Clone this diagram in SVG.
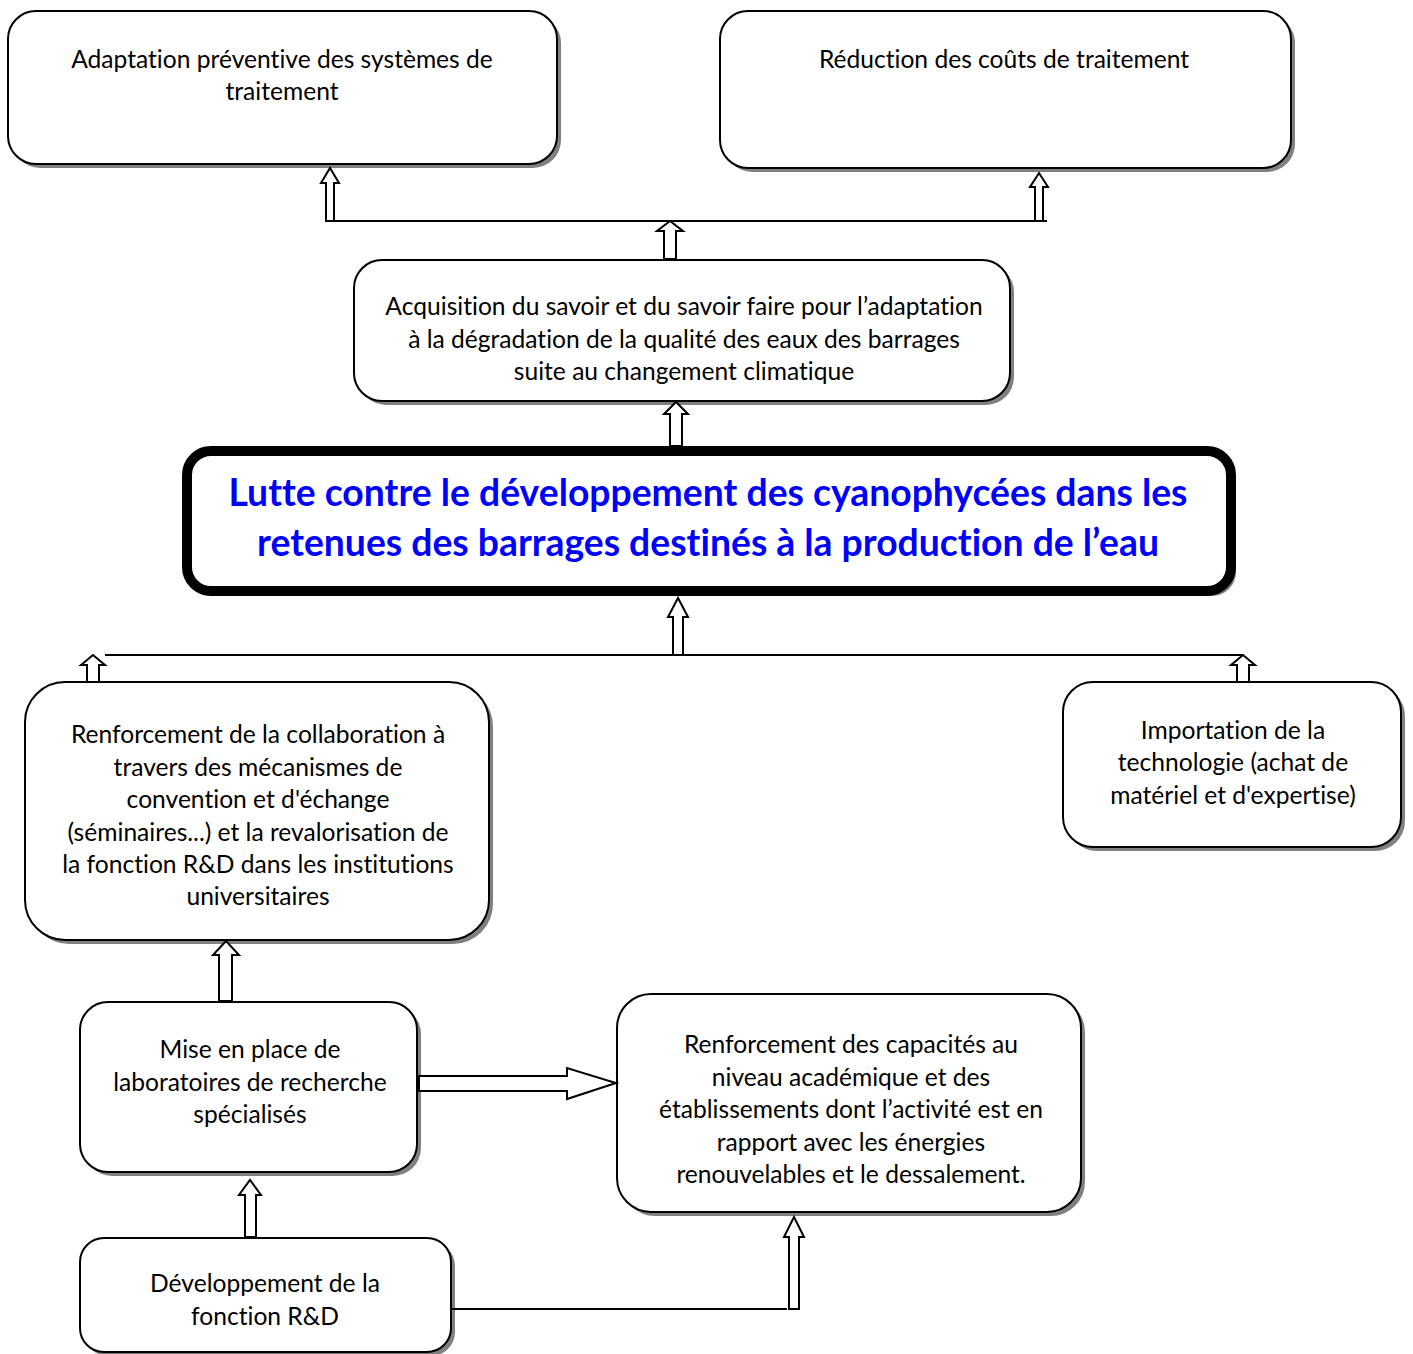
<svg xmlns="http://www.w3.org/2000/svg" width="1413" height="1354" viewBox="0 0 1413 1354">
<defs>
<style>
.box{fill:#fff;stroke:#000;stroke-width:2}
.sh{fill:#808080}
.t{font-family:Lato,"Open Sans","Liberation Sans",sans-serif;font-size:24.6px;fill:#000;text-anchor:middle;font-variant-ligatures:none;font-feature-settings:"liga" 0,"dlig" 0}
.title{font-family:Lato,"Open Sans","Liberation Sans",sans-serif;font-size:37.3px;font-weight:bold;fill:#0000ff;text-anchor:middle;font-variant-ligatures:none;font-feature-settings:"liga" 0,"dlig" 0}
.arr{fill:#fff;stroke:#000;stroke-width:2;stroke-linejoin:miter}
.ln{fill:none;stroke:#000;stroke-width:2}
</style>
</defs>
<rect width="1413" height="1354" fill="#fff"/>

<g id="n-adaptation">
<rect class="sh" x="12" y="15" width="549" height="153" rx="28"/>
<rect class="box" x="8" y="11" width="549" height="153" rx="28"/>
<text class="t" x="282" y="68">Adaptation préventive des systèmes de</text>
<text class="t" x="282" y="100">traitement</text>
</g>

<g id="n-reduction">
<rect class="sh" x="724" y="15" width="571" height="157" rx="28"/>
<rect class="box" x="720" y="11" width="571" height="157" rx="28"/>
<text class="t" x="1004" y="68">Réduction des coûts de traitement</text>
</g>

<g id="n-acquisition">
<rect class="sh" x="358" y="264" width="656" height="141" rx="28"/>
<rect class="box" x="354" y="260" width="656" height="141" rx="28"/>
<text class="t" x="684" y="315">Acquisition du savoir et du savoir faire pour l’adaptation</text>
<text class="t" x="684" y="348">à la dégradation de la qualité des eaux des barrages</text>
<text class="t" x="684" y="380">suite au changement climatique</text>
</g>

<g id="n-lutte">
<rect class="sh" x="192" y="456" width="1044" height="140" rx="24"/>
<rect x="187" y="451" width="1044" height="140" rx="24" fill="#fff" stroke="#000" stroke-width="10"/>
<text class="title" x="708" y="506">Lutte contre le développement des cyanophycées dans les</text>
<text class="title" x="708" y="556">retenues des barrages destinés à la production de l’eau</text>
</g>

<g id="n-collaboration">
<rect class="sh" x="29" y="686" width="464" height="258" rx="40"/>
<rect class="box" x="25" y="682" width="464" height="258" rx="40"/>
<text class="t" x="258" y="743">Renforcement de la collaboration à</text>
<text class="t" x="258" y="776">travers des mécanismes de</text>
<text class="t" x="258" y="808">convention et d'échange</text>
<text class="t" x="258" y="841">(séminaires...) et la revalorisation de</text>
<text class="t" x="258" y="873">la fonction R&amp;D dans les institutions</text>
<text class="t" x="258" y="905">universitaires</text>
</g>

<g id="n-importation">
<rect class="sh" x="1067" y="686" width="338" height="165" rx="30"/>
<rect class="box" x="1063" y="682" width="338" height="165" rx="30"/>
<text class="t" x="1233" y="739">Importation de la</text>
<text class="t" x="1233" y="771">technologie (achat de</text>
<text class="t" x="1233" y="804">matériel et d'expertise)</text>
</g>

<g id="n-laboratoires">
<rect class="sh" x="84" y="1006" width="337" height="170" rx="28"/>
<rect class="box" x="80" y="1002" width="337" height="170" rx="28"/>
<text class="t" x="250" y="1058">Mise en place de</text>
<text class="t" x="250" y="1091">laboratoires de recherche</text>
<text class="t" x="250" y="1123">spécialisés</text>
</g>

<g id="n-capacites">
<rect class="sh" x="621" y="998" width="464" height="218" rx="34"/>
<rect class="box" x="617" y="994" width="464" height="218" rx="34"/>
<text class="t" x="851" y="1053">Renforcement des capacités au</text>
<text class="t" x="851" y="1086">niveau académique et des</text>
<text class="t" x="851" y="1118">établissements dont l’activité est en</text>
<text class="t" x="851" y="1151">rapport avec les énergies</text>
<text class="t" x="851" y="1183">renouvelables et le dessalement.</text>
</g>

<g id="n-developpement">
<rect class="sh" x="84" y="1242" width="371" height="114" rx="24"/>
<rect class="box" x="80" y="1238" width="371" height="114" rx="24"/>
<text class="t" x="265" y="1292">Développement de la</text>
<text class="t" x="265" y="1325">fonction R&amp;D</text>
</g>

<g id="connectors">
<path class="ln" d="M330 221 H1047"/>
<path class="arr" d="M326 221 V183 H321 L330 168 L339 183 H334 V221 Z"/>
<path class="arr" d="M1035 221 V187 H1030 L1039 173 L1048 187 H1043 V221 Z"/>
<path class="arr" d="M664 259 V231 H657 L670 221 L683 231 H676 V259 Z"/>
<path class="arr" d="M670 446 V414 H664 L676 402 L688 414 H682 V446 Z"/>
<path class="ln" d="M105 655 H1243"/>
<path class="arr" d="M673 655 V617 H668 L678 598 L688 617 H683 V655 Z"/>
<path class="arr" d="M87 682 V665 H81 L93 655 L105 665 H99 V682 Z"/>
<path class="arr" d="M1237 682 V665 H1231 L1243 655 L1255 665 H1249 V682 Z"/>
<path class="arr" d="M219 1001 V955 H213 L226 941 L239 955 H232 V1001 Z"/>
<path class="arr" d="M245 1237 V1195 H239 L250 1180 L261 1195 H256 V1237 Z"/>
<path class="arr" d="M419 1076 H567 V1068 L616 1083 L567 1099 V1091 H419 Z"/>
<path class="ln" d="M452 1309 H787"/>
<path class="arr" d="M789 1309 V1237 H784 L794 1217 L804 1237 H799 V1309 Z"/>
</g>
</svg>
